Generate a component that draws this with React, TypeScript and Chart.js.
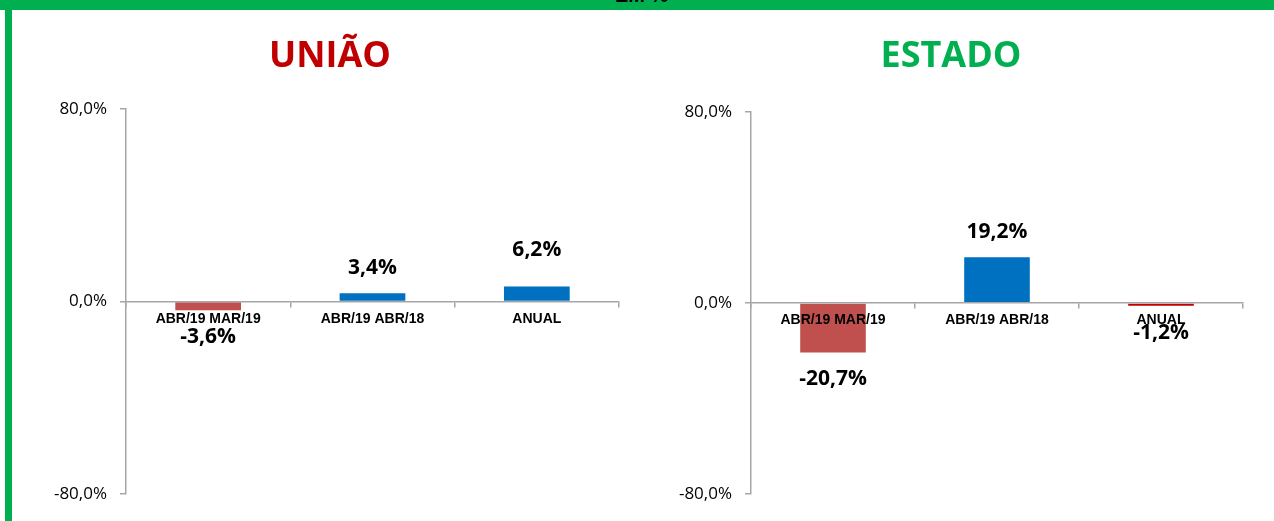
import React, { useEffect, useRef } from 'react';
import { Chart, registerables } from 'chart.js';

Chart.register(...registerables);

// ---- data ----
const categories = ['ABR/19 MAR/19', 'ABR/19 ABR/18', 'ANUAL'];
const uniaoValues = [-3.6, 3.4, 6.2];
const estadoValues = [-20.7, 19.2, -1.2];
const yTickValues = [-80, 0, 80];
const uniaoTitle = 'UNIÃO';
const estadoTitle = 'ESTADO';
const headerText = 'EM %';

// ---- styles ----
const AXIS = '#A6A6A6';
const GREEN = '#00B050';
const uniaoColors = ['#C0504D', '#0070C0', '#0070C0'];
const estadoColors = ['#C0504D', '#0070C0', '#C00000'];

const fmt = (v: number) => v.toFixed(1).replace('.', ',') + '%';

const labelsPlugin = {
  id: 'customLabels',
  afterDraw(chart: any, _args: any, opts: any) {
    const ctx = chart.ctx;
    const meta = chart.getDatasetMeta(0);
    const data = chart.data.datasets[0].data as number[];
    ctx.save();
    ctx.font = 'bold 21px "Open Sans"';
    ctx.fillStyle = '#000';
    ctx.textAlign = 'center';
    ctx.textBaseline = 'middle';
    meta.data.forEach((bar: any, i: number) => {
      const v = data[i];
      const nudge = (opts.nudges && opts.nudges[i]) || 0;
      const y = v >= 0 ? bar.y - 25 + nudge : bar.y + 27 + nudge;
      ctx.fillText(fmt(v), bar.x, y);
    });
    ctx.font = 'bold 36px "Open Sans"';
    ctx.fillStyle = opts.titleColor;
    ctx.textBaseline = 'alphabetic';
    ctx.fillText(opts.title, chart.width / 2, opts.titleBaseline);
    ctx.restore();
  },
};

type Props = {
  left: number;
  width: number;
  values: number[];
  colors: string[];
  title: string;
  titleColor: string;
  yWidth: number;
  padTop: number;
  padRight: number;
  nudges: number[];
};

const TOP = 10;
const HEIGHT = 511;

function BarPanel(p: Props) {
  const ref = useRef<HTMLCanvasElement>(null);
  useEffect(() => {
    if (!ref.current) return;
    const chart = new Chart(ref.current, {
      type: 'bar',
      data: {
        labels: categories,
        datasets: [
          {
            data: p.values,
            backgroundColor: p.colors,
            borderWidth: 0,
            categoryPercentage: 1,
            barPercentage: 0.4,
          },
        ],
      },
      plugins: [labelsPlugin as any],
      options: {
        animation: false,
        responsive: false,
        layout: { padding: { top: p.padTop, right: p.padRight, bottom: 27, left: 0 } },
        plugins: {
          legend: { display: false },
          tooltip: { enabled: false },
          customLabels: {
            title: p.title,
            titleColor: p.titleColor,
            titleBaseline: 57,
            nudges: p.nudges,
          },
        } as any,
        scales: {
          x: {
            position: { y: 0 } as any,
            grid: {
              display: true,
              drawOnChartArea: false,
              drawTicks: true,
              tickLength: 5,
              color: AXIS,
              lineWidth: 1.5,
              offset: true,
              z: 1,
            },
            border: { display: true, color: AXIS, width: 1.5, z: 1 },
            ticks: {
              z: 1,
              color: '#000',
              font: { family: '"Liberation Sans", Arial', size: 14, weight: 'bold' },
              padding: 4,
              maxRotation: 0,
              autoSkip: false,
            },
          } as any,
          y: {
            min: -80,
            max: 80,
            afterBuildTicks: (s: any) => {
              s.ticks = yTickValues.map((v) => ({ value: v }));
            },
            afterFit: (s: any) => {
              s.width = p.yWidth;
            },
            grid: {
              drawOnChartArea: false,
              drawTicks: true,
              tickLength: 6,
              color: AXIS,
              lineWidth: 1.5,
            },
            border: { display: true, color: AXIS, width: 1.5 },
            ticks: {
              callback: (v: any) => fmt(Number(v)),
              color: '#000',
              font: { family: '"Open Sans"', size: 17 },
              padding: 13,
            },
          },
        },
      },
    });
    return () => chart.destroy();
  }, []);
  return (
    <canvas
      ref={ref}
      width={p.width}
      height={HEIGHT}
      style={{ position: 'absolute', left: p.left, top: TOP, width: p.width, height: HEIGHT }}
    />
  );
}

export default function App() {
  return (
    <div
      style={{
        position: 'fixed',
        left: 0,
        top: 0,
        width: 1274,
        height: 521,
        overflow: 'hidden',
        background: '#fff',
      }}
    >
      <div
        style={{
          position: 'absolute',
          left: 0,
          top: 0,
          width: 1274,
          height: 10,
          background: GREEN,
          overflow: 'hidden',
        }}
      >
        <span
          style={{
            position: 'absolute',
            left: 615,
            top: -15,
            fontFamily: '"Liberation Sans", Arial',
            fontWeight: 'bold',
            fontSize: 20,
            lineHeight: '20px',
            color: '#000',
            whiteSpace: 'nowrap',
          }}
        >
          {headerText}
        </span>
      </div>
      <div style={{ position: 'absolute', left: 5, top: 10, width: 7, height: 511, background: GREEN }} />
      <BarPanel
        left={40}
        width={580}
        values={uniaoValues}
        colors={uniaoColors}
        title={uniaoTitle}
        titleColor="#C00000"
        yWidth={86}
        padTop={99}
        padRight={1}
        nudges={[0, 0, -12]}
      />
      <BarPanel
        left={652}
        width={598}
        values={estadoValues}
        colors={estadoColors}
        title={estadoTitle}
        titleColor={GREEN}
        yWidth={99}
        padTop={102}
        padRight={7}
        nudges={[0, 0, 0]}
      />
    </div>
  );
}
